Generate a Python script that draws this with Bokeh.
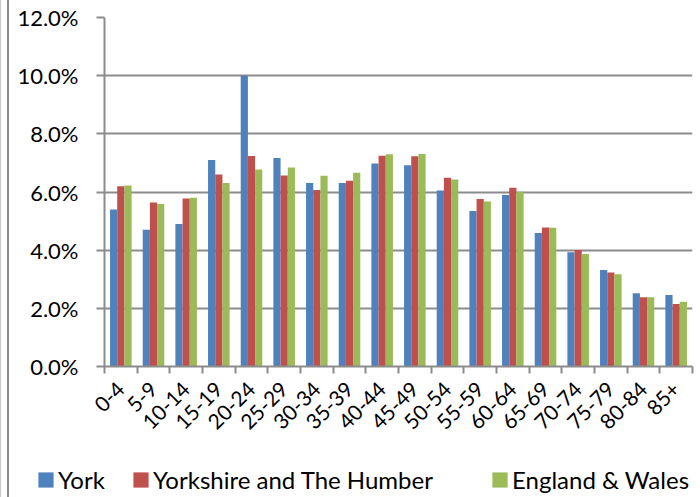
import math
from bokeh.plotting import figure
from bokeh.layouts import column, row
from bokeh.models import (ColumnDataSource, Range1d, LinearAxis, FixedTicker,
                          CustomJSTickFormatter, PrintfTickFormatter, Legend, LegendItem)
from bokeh.transform import dodge
from bokeh.embed import file_html
from bokeh.resources import INLINE

categories = ["0-4", "5-9", "10-14", "15-19", "20-24", "25-29", "30-34", "35-39",
              "40-44", "45-49", "50-54", "55-59", "60-64", "65-69", "70-74",
              "75-79", "80-84", "85+"]
york = [5.40, 4.70, 4.90, 7.10, 10.0, 7.17, 6.31, 6.31, 6.98, 6.92, 6.05, 5.35,
        5.90, 4.59, 3.93, 3.32, 2.52, 2.46]
yorkshire = [6.20, 5.64, 5.78, 6.60, 7.24, 6.57, 6.07, 6.39, 7.25, 7.23, 6.49, 5.76,
             6.15, 4.78, 4.01, 3.23, 2.38, 2.15]
england_wales = [6.22, 5.59, 5.80, 6.31, 6.77, 6.84, 6.56, 6.66, 7.30, 7.31, 6.43, 5.67,
                 6.01, 4.77, 3.87, 3.17, 2.38, 2.23]
y_ticks = [0, 2, 4, 6, 8, 10, 12]
series_names = ["York", "Yorkshire and The Humber", "England & Wales"]
colors = ["#4F81BD", "#C0504D", "#9BBB59"]

FONT = "Lato"
GRAY = "#8c8c8c"

n = len(categories)
src = ColumnDataSource(dict(x=[i + 0.5 for i in range(n)], york=york,
                            yorkshire=yorkshire, ew=england_wales))

p = figure(width=691, height=445, output_backend="svg", toolbar_location=None,
           x_range=Range1d(0, n), y_range=Range1d(0, 12),
           x_axis_location=None, y_axis_location=None,
           min_border_left=95, min_border_right=8, min_border_top=17, min_border_bottom=79)
p.outline_line_color = None
p.background_fill_color = "white"
p.border_fill_color = "white"

bw = 0.22
fields = ["york", "yorkshire", "ew"]
for k, (f, c) in enumerate(zip(fields, colors)):
    p.vbar(x=dodge("x", (k - 1) * bw, range=p.x_range), top=f, width=bw,
           source=src, fill_color=c, line_color=None)

# y axis
yax = LinearAxis(ticker=FixedTicker(ticks=y_ticks),
                 formatter=PrintfTickFormatter(format="%.1f%%"))
yax.axis_line_color = GRAY
yax.axis_line_width = 2
yax.major_tick_line_color = GRAY
yax.major_tick_line_width = 2
yax.major_tick_out = 8
yax.major_tick_in = 0
yax.minor_tick_line_color = None
yax.major_label_text_font = FONT
yax.major_label_text_font_size = "22px"
yax.major_label_text_color = "black"
yax.major_label_standoff = 18
p.add_layout(yax, "left")

# x axis: labels at category centres, minor ticks at category boundaries
xax = LinearAxis(ticker=FixedTicker(ticks=[i + 0.5 for i in range(n)],
                                    minor_ticks=list(range(n + 1))),
                 formatter=CustomJSTickFormatter(args=dict(labels=categories),
                                                 code="return labels[Math.floor(tick)];"))
xax.axis_line_color = GRAY
xax.axis_line_width = 2
xax.major_tick_line_color = None
xax.major_tick_out = 0
xax.major_tick_in = 0
xax.minor_tick_line_color = GRAY
xax.minor_tick_line_width = 2
xax.minor_tick_out = 7
xax.minor_tick_in = 0
xax.major_label_orientation = math.pi / 4
xax.major_label_text_font = FONT
xax.major_label_text_font_size = "21px"
xax.major_label_text_color = "black"
xax.major_label_standoff = 12
p.add_layout(xax, "below")

p.ygrid.ticker = FixedTicker(ticks=y_ticks)
p.ygrid.grid_line_color = GRAY
p.ygrid.grid_line_width = 2
p.xgrid.grid_line_color = None

# legend strip below the chart (its swatch renderers sit outside the visible range)
lp = figure(width=691, height=52, output_backend="svg", toolbar_location=None,
            x_range=Range1d(0, 1), y_range=Range1d(0, 1),
            x_axis_location=None, y_axis_location=None,
            min_border=0, min_border_left=0, min_border_right=0,
            min_border_top=0, min_border_bottom=0)
lp.outline_line_color = None
lp.xgrid.grid_line_color = None
lp.ygrid.grid_line_color = None
legend_x = [27, 122, 481]
for nm, c, lx in zip(series_names, colors, legend_x):
    r = lp.rect(x=[5], y=[0.5], width=1, height=1, fill_color=c, line_color=None)
    lg = Legend(items=[LegendItem(label=nm, renderers=[r])],
                location=(lx, 3), orientation="horizontal",
                padding=0, margin=0, border_line_color=None,
                background_fill_alpha=0, glyph_width=19, glyph_height=19,
                label_standoff=3, label_height=24,
                label_text_font=FONT, label_text_font_size="24px",
                label_text_color="black")
    lp.add_layout(lg, "center")

layout = column(p, row(lp), spacing=0)
layout.styles = {"margin-left": "9px",
                 "box-shadow": "-2px 0 0 0 #8c8c8c, -8px 0 0 0 #ffffff, -9px 0 0 0 #c8c8c8"}

open("out.html", "w").write(file_html(layout, INLINE))
